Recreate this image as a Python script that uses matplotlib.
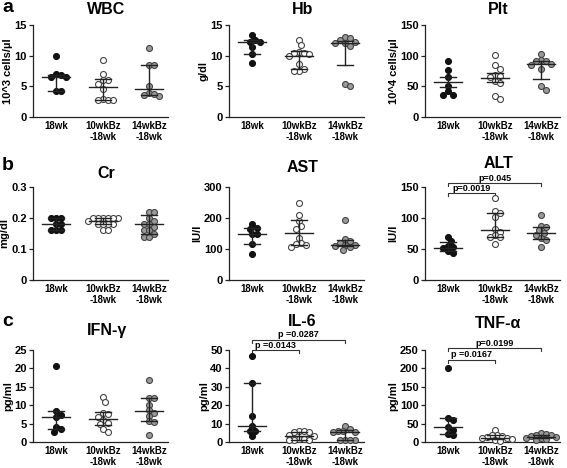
import numpy as np
import matplotlib
matplotlib.use('Agg')
import matplotlib.pyplot as plt

plt.rcParams['font.family'] = ['Liberation Sans', 'DejaVu Sans']
plt.rcParams['font.weight'] = 'bold'

groups = ['18wk', '10wkBz\n-18wk', '14wkBz\n-18wk']

# individual values per group
wbc = [[10.0, 7.0, 6.9, 6.6, 6.5, 4.3, 4.2],
       [9.3, 7.0, 6.0, 6.0, 5.3, 4.5, 3.0, 2.8, 2.7, 2.7],
       [11.2, 8.5, 8.4, 5.1, 3.9, 3.7, 3.6, 3.5]]
hb = [[13.4, 12.6, 12.3, 12.3, 11.4, 10.3, 8.8],
      [12.5, 11.7, 10.6, 10.5, 10.4, 10.3, 9.9, 8.6, 7.9, 7.5, 7.5],
      [13.0, 12.8, 12.6, 12.2, 12.1, 12.0, 11.6, 5.3, 5.0]]
plt_ = [[91, 77, 65, 51, 42, 36, 36],
        [101, 84, 79, 69, 67, 66, 58, 55, 35, 30],
        [102, 93, 92, 91, 87, 85, 79, 50, 44]]
cr = [[0.20, 0.20, 0.20, 0.18, 0.18, 0.16, 0.16, 0.16],
      [0.20, 0.20, 0.20, 0.20, 0.20, 0.20, 0.19, 0.18, 0.18, 0.18, 0.18, 0.16, 0.16],
      [0.22, 0.22, 0.20, 0.19, 0.18, 0.18, 0.17, 0.16, 0.16, 0.15, 0.14, 0.14]]
ast = [[180, 168, 165, 150, 148, 115, 84],
       [250, 210, 190, 175, 165, 135, 120, 115, 112, 108],
       [194, 132, 125, 120, 113, 112, 110, 108, 97]]
alt = [[70, 63, 55, 53, 51, 46, 44],
       [132, 112, 108, 102, 82, 78, 72, 70, 69, 58],
       [105, 87, 85, 80, 76, 72, 67, 64, 54]]
ifn = [[20.6, 8.4, 7.3, 6.8, 4.1, 3.5, 2.8],
       [12.1, 10.8, 7.8, 7.5, 6.7, 6.0, 5.2, 4.8, 3.6, 2.8],
       [16.8, 12.0, 11.9, 10.1, 8.6, 8.0, 7.0, 5.6, 5.5, 1.9]]
il6 = [[47, 32, 14, 8.6, 6.0, 5.8, 3.0],
       [6.2, 5.8, 5.5, 5.2, 4.0, 3.5, 1.8, 1.5, 1.2, 1.0, 0.9],
       [8.5, 7.2, 6.0, 5.8, 5.5, 5.3, 1.3, 1.0, 1.0, 1.0]]
tnf = [[201, 66, 60, 42, 33, 22, 18],
       [32, 20, 18, 17, 14, 12, 10, 8, 6, 4],
       [25, 22, 20, 18, 15, 13, 12, 10, 8, 5]]

# centre line and error bar ends per group
wbc_c, wbc_lo, wbc_hi = [6.6, 4.9, 4.5], [4.2, 2.8, 3.6], [6.9, 6.2, 8.4]
hb_c, hb_lo, hb_hi = [12.3, 10.0, 12.0], [10.3, 7.8, 8.4], [12.6, 10.8, 12.4]
plt_c, plt_lo, plt_hi = [57, 64, 87], [49, 57, 62], [65, 71, 91]
cr_c, cr_lo, cr_hi = [0.18, 0.19, 0.18], [0.16, 0.18, 0.15], [0.20, 0.20, 0.21]
ast_c, ast_lo, ast_hi = [150, 153, 113], [115, 114, 109], [168, 195, 128]
alt_c, alt_lo, alt_hi = [52, 80, 76], [46, 70, 66], [62, 108, 86]
ifn_c, ifn_lo, ifn_hi = [6.8, 6.3, 8.3], [3.5, 4.5, 5.6], [8.4, 8.2, 11.9]
il6_c, il6_lo, il6_hi = [8.6, 3.2, 5.5], [5.8, 1.2, 1.0], [32, 5.5, 6.3]
tnf_c, tnf_lo, tnf_hi = [42, 12, 14], [22, 8, 10], [66, 18, 20]

titles = ['WBC', 'Hb', 'Plt', 'Cr', 'AST', 'ALT', 'IFN-γ', 'IL-6', 'TNF-α']
ylabels = ['10^3 cells/µl', 'g/dl', '10^4 cells/µl', 'mg/dl', 'IU/l', 'IU/l',
           'pg/ml', 'pg/ml', 'pg/ml']
yticks = [[0, 5, 10, 15], [0, 5, 10, 15], [0, 50, 100, 150],
          [0, 0.1, 0.2, 0.3], [0, 100, 200, 300], [0, 50, 100, 150],
          [0, 5, 10, 15, 20, 25], [0, 10, 20, 30, 40, 50], [0, 50, 100, 150, 200, 250]]

# significance brackets (x1, x2, y, label)
alt_p = [(0, 1, 140, 'p=0.0019'), (0, 2, 156, 'p=0.045')]
il6_p = [(0, 1, 50, 'p =0.0143'), (0, 2, 55.5, 'p =0.0287')]
tnf_p = [(0, 1, 223, 'p =0.0167'), (0, 2, 255, 'p=0.0199')]

panels = [
    (wbc, wbc_c, wbc_lo, wbc_hi, []),
    (hb, hb_c, hb_lo, hb_hi, []),
    (plt_, plt_c, plt_lo, plt_hi, []),
    (cr, cr_c, cr_lo, cr_hi, []),
    (ast, ast_c, ast_lo, ast_hi, []),
    (alt, alt_c, alt_lo, alt_hi, alt_p),
    (ifn, ifn_c, ifn_lo, ifn_hi, []),
    (il6, il6_c, il6_lo, il6_hi, il6_p),
    (tnf, tnf_c, tnf_lo, tnf_hi, tnf_p),
]

W, H = 567, 468
col_x = [33, 229, 425]
row_y = [(25, 117), (187, 280), (350, 442)]
ax_w = 135
title_y = [10, 10, 10, 173, 167, 164, 330, 322, 324]
face = ['#111111', 'white', '#9a9a9a']
edge = ['#111111', '#444444', '#444444']


def swarm(vals, px_per_unit, px_per_cat, d=5.0):
    order = np.argsort(vals)[::-1]
    placed = []
    offs = np.zeros(len(vals))
    step = d * 0.5
    cands = [0.0]
    for k in range(1, 14):
        cands += [k * step, -k * step]
    for i in order:
        y = vals[i] * px_per_unit
        for c in cands:
            if all((c - px) ** 2 + (y - py) ** 2 >= d ** 2 for px, py in placed):
                break
        placed.append((c, y))
        offs[i] = c / px_per_cat
    return offs


fig = plt.figure(figsize=(W / 100, H / 100), dpi=100)
xl = (-0.5, 2.4)

for n, (data, cen, lo, hi, brackets) in enumerate(panels):
    r, c = divmod(n, 3)
    top, bot = row_y[r]
    ax = fig.add_axes([col_x[c] / W, (H - bot) / H, ax_w / W, (bot - top) / H])
    ymax = yticks[n][-1]
    ax.set_xlim(*xl)
    ax.set_ylim(0, ymax)
    px_unit = (bot - top) / ymax
    px_cat = ax_w / (xl[1] - xl[0])
    for g in range(3):
        v = np.array(data[g], dtype=float)
        xo = swarm(v, px_unit, px_cat)
        ax.plot(g + xo, v, 'o', ms=4.3, mfc=face[g], mec=edge[g], mew=0.8,
                clip_on=False, zorder=3)
        ax.plot([g - 0.3, g + 0.3], [cen[g]] * 2, color='#222222', lw=1.0, zorder=4)
        ax.plot([g, g], [lo[g], hi[g]], color='#222222', lw=1.0, zorder=4)
        for e in (lo[g], hi[g]):
            ax.plot([g - 0.17, g + 0.17], [e, e], color='#222222', lw=1.0, zorder=4)
    for x1, x2, y, lab in brackets:
        dy = 3 / px_unit
        ax.plot([x1, x1, x2, x2], [y - dy, y, y, y - dy], color='#333333', lw=0.8,
                clip_on=False)
        ax.text((x1 + x2) / 2, y + 0.5 / px_unit, lab, ha='center', va='bottom',
                fontsize=6.5, fontweight='bold')
    ax.set_xticks(range(3))
    ax.set_xticklabels(groups, fontsize=7, fontweight='bold', linespacing=1.15)
    ax.set_yticks(yticks[n])
    ax.set_yticklabels(['%g' % t for t in yticks[n]], fontsize=8, fontweight='bold')
    ax.tick_params(axis='x', length=0, pad=3)
    ax.tick_params(axis='y', length=3, width=0.9, pad=1.5, color='#222222')
    for s in ('top', 'right'):
        ax.spines[s].set_visible(False)
    for s in ('left', 'bottom'):
        ax.spines[s].set_linewidth(0.9)
        ax.spines[s].set_color('#222222')
    ax.set_ylabel(ylabels[n], fontsize=8, fontweight='bold', labelpad=1)
    fig.text((col_x[c] + ax_w / 2 + 6) / W, 1 - title_y[n] / H, titles[n],
             ha='center', va='center', fontsize=11.5, fontweight='bold')

for lab, y in [('a', 8), ('b', 165), ('c', 322)]:
    fig.text(2 / W, 1 - y / H, lab, ha='left', va='center', fontsize=14,
             fontweight='bold')

fig.savefig('out.png', dpi=100)
